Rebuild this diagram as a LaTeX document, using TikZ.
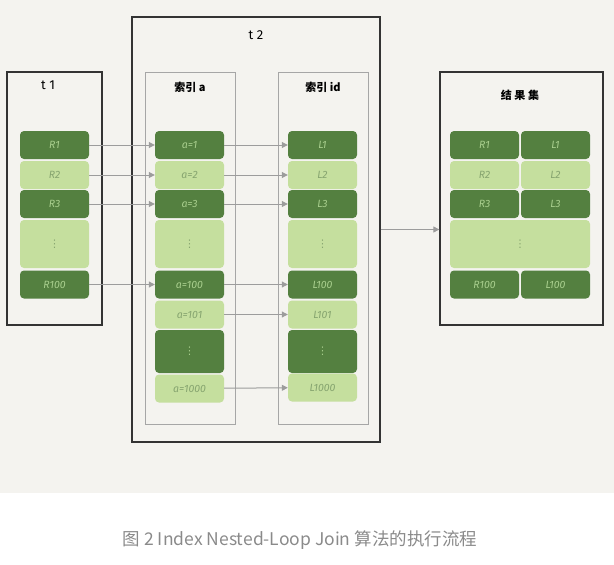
\documentclass[tikz,border=0pt]{standalone}
\usepackage{fontspec}
\setmainfont{Fira Sans}
\newfontfamily\cjk{Noto Sans CJK SC}
\newfontfamily\dotsfont{DejaVu Sans}
\usetikzlibrary{arrows.meta}

\definecolor{paper}{HTML}{F4F3EF}
\definecolor{darkcell}{HTML}{548040}
\definecolor{lightcell}{HTML}{C5DF9E}
\definecolor{darktext}{HTML}{A9CF8E}
\definecolor{lighttext}{HTML}{86A46F}
\definecolor{linkgray}{HTML}{9C9C9C}
\definecolor{captiongray}{HTML}{8A8A8A}

\newcommand{\celldots}{{\dotsfont ⋮}}

\tikzset{
  cell/.style={inner sep=0pt, rounded corners=4pt, minimum width=69pt,
    minimum height=28pt, font=\fontsize{10.5}{12}\selectfont\itshape},
  dcell/.style={cell, fill=darkcell, text=darktext},
  lcell/.style={cell, fill=lightcell, text=lighttext},
  tablebox/.style={draw=black!80, line width=1.3pt, inner sep=0pt},
  indexbox/.style={draw=black!35, line width=1pt, inner sep=0pt},
  boxlabel/.style={font=\fontsize{13}{15}\selectfont},
  cjklabel/.style={font=\cjk\fontsize{11}{13}\selectfont\bfseries},
  link/.style={draw=linkgray, line width=1pt, -{Triangle[width=6pt,length=6pt]}}
}

\begin{document}
\begin{tikzpicture}[x=1pt, y=-1pt]
    \useasboundingbox (0,0) rectangle (614,565);
    \fill[paper] (0,0) rectangle (614,493);

    % outer boxes
    \node[tablebox, minimum width=95pt, minimum height=253pt] (t1box) at (54.5,198.5) {};
    \node[tablebox, minimum width=248pt, minimum height=425pt] (t2box) at (256,229.5) {};
    \node[indexbox, minimum width=90pt, minimum height=352pt] (abox) at (190,248) {};
    \node[indexbox, minimum width=90pt, minimum height=352pt] (idbox) at (323,248) {};
    \node[tablebox, minimum width=163pt, minimum height=253pt] (resbox) at (521.5,198.5) {};

    \node[boxlabel] (t1lbl) at (48,85) {t 1};
    \node[boxlabel] (t2lbl) at (256,35) {t 2};
    \node[cjklabel] (albl) at (190,87) {索引 \textit{a}};
    \node[cjklabel] (idlbl) at (323,87) {索引 \textit{id}};
    \node[cjklabel] (reslbl) at (520,95) {结 果 集};

    % t1
    \node[dcell] (r1) at (54.5,145) {R1};
    \node[lcell] (r2) at (54.5,175) {R2};
    \node[dcell] (r3) at (54.5,204) {R3};
    \node[lcell, minimum height=48pt] (rdots) at (54.5,244) {\celldots};
    \node[dcell] (r100) at (54.5,284.5) {R100};

    % index a
    \node[dcell] (a1) at (189.5,145) {a=1};
    \node[lcell] (a2) at (189.5,175) {a=2};
    \node[dcell] (a3) at (189.5,204) {a=3};
    \node[lcell, minimum height=48pt] (adots) at (189.5,244) {\celldots};
    \node[dcell] (a100) at (189.5,284.5) {a=100};
    \node[lcell] (a101) at (189.5,314.5) {a=101};
    \node[dcell, minimum height=43pt] (adots2) at (189.5,351.5) {\celldots};
    \node[lcell] (a1000) at (189.5,388.5) {a=1000};

    % index id
    \node[dcell] (l1) at (322.5,145) {L1};
    \node[lcell] (l2) at (322.5,175) {L2};
    \node[dcell] (l3) at (322.5,204) {L3};
    \node[lcell, minimum height=48pt] (ldots) at (322.5,244) {\celldots};
    \node[dcell] (l100) at (322.5,284.5) {L100};
    \node[lcell] (l101) at (322.5,314.5) {L101};
    \node[dcell, minimum height=43pt] (ldots2) at (322.5,351.5) {\celldots};
    \node[lcell] (l1000) at (322.5,387.5) {L1000};

    % result set
    \node[dcell] (sr1) at (484.5,145) {R1};
    \node[dcell] (sl1) at (555.5,145) {L1};
    \node[lcell] (sr2) at (484.5,175) {R2};
    \node[lcell] (sl2) at (555.5,175) {L2};
    \node[dcell] (sr3) at (484.5,204) {R3};
    \node[dcell] (sl3) at (555.5,204) {L3};
    \node[lcell, minimum width=140pt, minimum height=48pt] (sdots) at (520,244) {\celldots};
    \node[dcell] (sr100) at (484.5,284.5) {R100};
    \node[dcell] (sl100) at (555.5,284.5) {L100};

    % lookups
    \draw[link] (r1) -- (a1);
    \draw[link] (r2) -- (a2);
    \draw[link] (r3) -- (a3);
    \draw[link] (r100) -- (a100);
    \draw[link] (a1) -- (l1);
    \draw[link] (a2) -- (l2);
    \draw[link] (a3) -- (l3);
    \draw[link] (a100) -- (l100);
    \draw[link] (a101) -- (l101);
    \draw[link] (a1000) -- (l1000);
    \draw[link] (t2box.east) -- (resbox.west |- t2box.east);

    \node[font=\cjk\fontsize{17.5}{20}\selectfont, text=captiongray] (caption) at (300,540)
      {图 2 Index Nested-Loop Join 算法的执行流程};
\end{tikzpicture}
\end{document}
